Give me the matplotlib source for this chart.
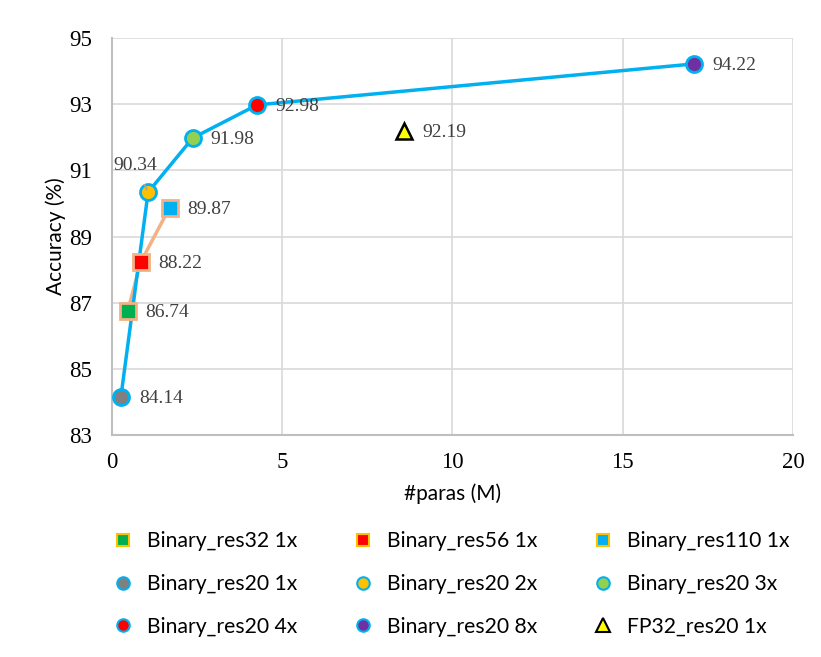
import matplotlib.pyplot as plt

# res20 at different widths
res20_labels = ["Binary_res20 1x", "Binary_res20 2x", "Binary_res20 3x",
                "Binary_res20 4x", "Binary_res20 8x"]
res20_paras = [0.27, 1.07, 2.38, 4.27, 17.09]
res20_acc = [84.14, 90.34, 91.98, 92.98, 94.22]
res20_colors = ["#808080", "#FFC000", "#92D050", "#FF0000", "#7030A0"]

# deeper binary resnets
deep_labels = ["Binary_res32 1x", "Binary_res56 1x", "Binary_res110 1x"]
deep_paras = [0.47, 0.85, 1.70]
deep_acc = [86.74, 88.22, 89.87]
deep_colors = ["#00B050", "#FF0000", "#00B0F0"]

fp_label = "FP32_res20 1x"
fp_paras = [8.58]
fp_acc = [92.19]

fig = plt.figure(figsize=(8.21, 6.57), dpi=100)
ax = fig.add_axes([0.136, 0.338, 0.83, 0.604])

ax.plot(deep_paras, deep_acc, color="#F4B183", lw=2.5, zorder=2)
ax.plot(res20_paras, res20_acc, color="#00B0F0", lw=2.5, zorder=3)

handles = {}
for x, y, c, lab in zip(deep_paras, deep_acc, deep_colors, deep_labels):
    ax.plot(x, y, "s", ms=11, mfc=c, mec="#F4B183", mew=2, zorder=4)
    handles[lab] = plt.Line2D([], [], ls="", marker="s", ms=8.5, mfc=c,
                              mec="#FFC000", mew=1.5)
for x, y, c, lab in zip(res20_paras, res20_acc, res20_colors, res20_labels):
    ax.plot(x, y, "o", ms=11.5, mfc=c, mec="#00B0F0", mew=2, zorder=4)
    handles[lab] = plt.Line2D([], [], ls="", marker="o", ms=9, mfc=c,
                              mec="#00B0F0", mew=1.5)
ax.plot(fp_paras, fp_acc, "^", ms=11, mfc="#FFFF00", mec="black", mew=1.8, zorder=4)
handles[fp_label] = plt.Line2D([], [], ls="", marker="^", ms=9.5, mfc="#FFFF00",
                               mec="black", mew=1.5)

lab_font = dict(family="Liberation Serif", size=14, color="#404040")
all_x = res20_paras + deep_paras + fp_paras
all_y = res20_acc + deep_acc + fp_acc
for x, y in zip(all_x, all_y):
    if y == 90.34:
        ax.annotate(f"{y:.2f}", (x, y), xytext=(-9, 19), textcoords="offset points",
                    ha="center", va="center", **lab_font,
                    arrowprops=dict(arrowstyle="-", color="#A6A6A6", lw=1.2,
                                    shrinkA=6, shrinkB=2), zorder=5)
    else:
        ax.annotate(f"{y:.2f}", (x, y), xytext=(13, -1), textcoords="offset points",
                    ha="left", va="center", zorder=5, **lab_font)

ax.set_xlim(0, 20)
ax.set_ylim(83, 95)
ax.set_xticks([0, 5, 10, 15, 20])
ax.set_yticks([83, 85, 87, 89, 91, 93, 95])
ax.grid(True, color="#D9D9D9", lw=1.2)
ax.set_axisbelow(True)
for s in ["top", "right"]:
    ax.spines[s].set_visible(False)
for s in ["left", "bottom"]:
    ax.spines[s].set_color("#BFBFBF")
    ax.spines[s].set_linewidth(1.5)
ax.tick_params(axis="y", length=0, pad=14)
ax.tick_params(axis="x", length=0, pad=12)
for t in ax.get_xticklabels() + ax.get_yticklabels():
    t.set_fontfamily("Liberation Serif")
    t.set_fontsize(16.5)

ax.set_xlabel("#paras (M)", family="Lato", size=15, labelpad=8)
ax.set_ylabel("Accuracy (%)", family="Lato", size=15, labelpad=2)

order = ["Binary_res32 1x", "Binary_res56 1x", "Binary_res110 1x",
         "Binary_res20 1x", "Binary_res20 2x", "Binary_res20 3x",
         "Binary_res20 4x", "Binary_res20 8x", "FP32_res20 1x"]
# legend is filled column by column, so reorder to read row-wise
flat = order[0::3] + order[1::3] + order[2::3]
fig.legend([handles[k] for k in flat], flat, ncol=3, loc="upper left",
           bbox_to_anchor=(0.113, 0.22), frameon=False,
           prop=dict(family="Lato", size=15.2), handletextpad=0.55,
           columnspacing=2.6, labelspacing=1.07, handlelength=1.1)

fig.savefig("out.png", dpi=100)
